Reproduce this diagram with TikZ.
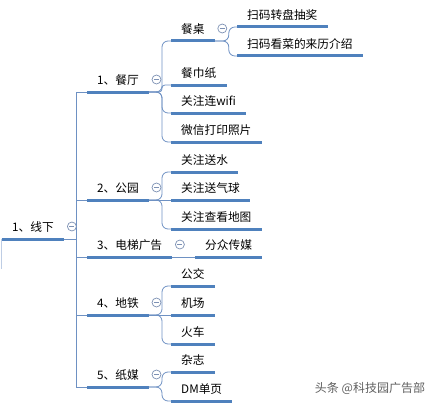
\documentclass[tikz,border=0pt]{standalone}
\usepackage{fontspec}
\setmainfont{Noto Sans CJK SC}
\usetikzlibrary{calc}
\definecolor{ul}{RGB}{79,129,189}
\definecolor{cn}{RGB}{110,145,195}
\definecolor{mc}{RGB}{125,145,180}
\definecolor{wm}{RGB}{95,95,95}
\begin{document}
\begin{tikzpicture}[x=1pt,y=-1pt,
  item/.style={anchor=south west, inner xsep=10pt, inner ysep=7pt, text depth=0pt, text height=9pt,
    font=\fontsize{11.7pt}{14pt}\selectfont, text=black},
  uline/.style={draw=ul, line width=3pt},
  conn/.style={draw=cn, line width=0.8pt},
  minus/.style={circle, draw=mc, line width=0.7pt, fill=white, minimum size=9pt, inner sep=0pt,
    path picture={\draw[mc, line width=0.7pt] ([xshift=-2.5pt]path picture bounding box.center) -- ([xshift=2.5pt]path picture bounding box.center);}},
  wmark/.style={font=\fontsize{12pt}{14pt}\selectfont, text=wm}]
\useasboundingbox (0,0) rectangle (431,404);

% root
\node[item, minimum width=62.5pt] (root) at (1.5,239) {1、线下};
% level 1
\node[item] (c1) at (87,92) {1、餐厅};
\node[item] (c2) at (87,200) {2、公园};
\node[item] (c3) at (87,257) {3、电梯广告};
\node[item] (c4) at (87,315) {4、地铁};
\node[item] (c5) at (87,387) {5、纸媒};
% level 2
\node[item] (a1) at (171,41) {餐桌};
\node[item] (a2) at (171,85) {餐巾纸};
\node[item] (a3) at (171,113) {关注连wifi};
\node[item] (a4) at (171,142) {微信打印照片};
\node[item] (b1) at (171,172) {关注送水};
\node[item] (b2) at (171,200) {关注送气球};
\node[item] (b3) at (171,229) {关注查看地图};
\node[item] (e1) at (195,257) {分众传媒};
\node[item] (f1) at (171,286) {公交};
\node[item] (f2) at (171,315) {机场};
\node[item] (f3) at (171,344) {火车};
\node[item] (g1) at (171,372) {杂志};
\node[item] (g2) at (171,401) {DM单页};
% level 3
\node[item] (h1) at (237,27) {扫码转盘抽奖};
\node[item] (h2) at (237,56) {扫码看菜的来历介绍};

% underlines
\foreach \n in {root,c1,c2,c3,c4,c5,a1,a2,a3,a4,b1,b2,b3,e1,f1,f2,f3,g1,g2,h1,h2}
  \draw[uline] (\n.south west) -- (\n.south east);

% junction coordinates
\coordinate (rl) at ($(root.south west)+(0,30)$);
\coordinate (t) at (76,239);
\coordinate (j1) at ($(c1.south east)+(13,0)$);
\coordinate (j2) at ($(c2.south east)+(13,0)$);
\coordinate (j4) at ($(c4.south east)+(13,0)$);
\coordinate (j5) at ($(c5.south east)+(13,0)$);
\coordinate (ja) at ($(a1.south east)+(14,0)$);

% connectors
\draw[conn, draw=cn!45] (root.south west) -- (rl);
\draw[conn] (root.south east) -- (t);
\foreach \c in {c1,c2,c3,c4,c5}
  \draw[conn] (t) |- (\c.south west);

\draw[conn, rounded corners=6pt] (c1.south east) -- (j1) |- (a1.south west);
\draw[conn, rounded corners=3pt] (c1.south east) -- (j1) |- (a2.south west);
\draw[conn, rounded corners=6pt] (c1.south east) -- (j1) |- (a3.south west);
\draw[conn, rounded corners=6pt] (c1.south east) -- (j1) |- (a4.south west);

\draw[conn, rounded corners=6pt] (c2.south east) -- (j2) |- (b1.south west);
\draw[conn] (c2.south east) -- (b2.south west);
\draw[conn, rounded corners=6pt] (c2.south east) -- (j2) |- (b3.south west);

\draw[conn] (c3.south east) -- (e1.south west);

\draw[conn, rounded corners=6pt] (c4.south east) -- (j4) |- (f1.south west);
\draw[conn] (c4.south east) -- (f2.south west);
\draw[conn, rounded corners=6pt] (c4.south east) -- (j4) |- (f3.south west);

\draw[conn, rounded corners=6pt] (c5.south east) -- (j5) |- (g1.south west);
\draw[conn, rounded corners=6pt] (c5.south east) -- (j5) |- (g2.south west);

\draw[conn, rounded corners=6pt] (a1.south east) -- (ja) |- (h1.south west);
\draw[conn, rounded corners=6pt] (a1.south east) -- (ja) |- (h2.south west);

% collapse markers
\foreach \n in {root,c1,c2,c3,c4,c5,a1}
  \node[minus] (m\n) at ($(\n.south east)+(7.5,-12.5)$) {};

% watermark
\node[wmark] (wm) at (370,388) {头条 @科技园广告部};
\end{tikzpicture}
\end{document}
